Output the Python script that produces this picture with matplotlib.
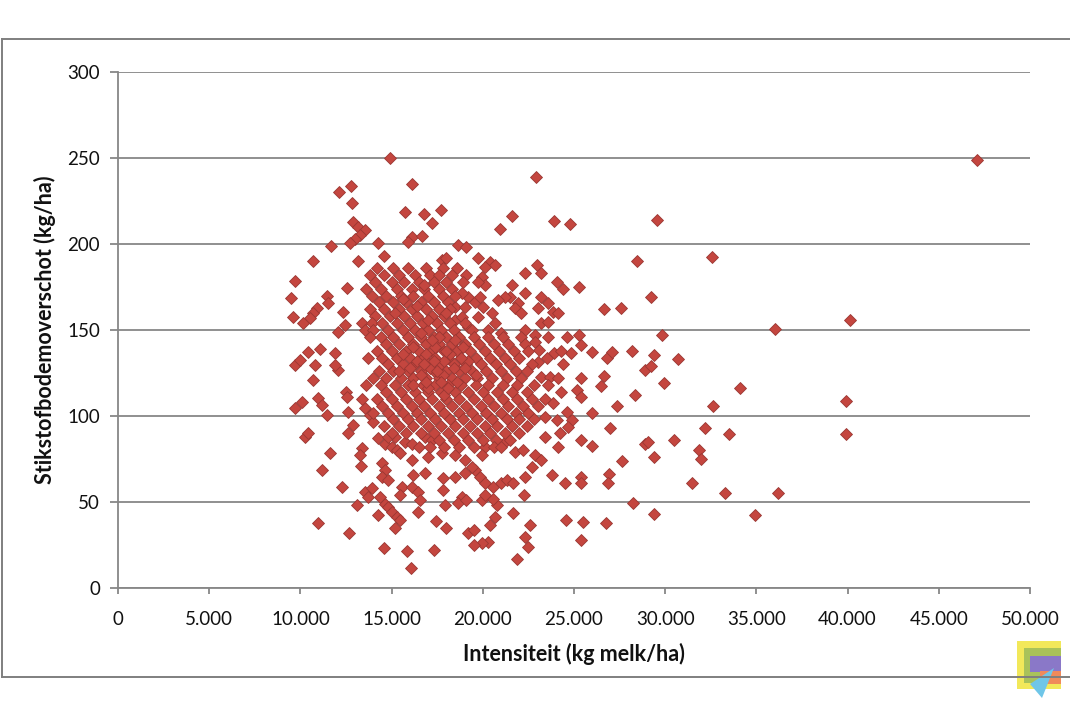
import matplotlib
matplotlib.use("Agg")
import matplotlib.pyplot as plt
from matplotlib.patches import Rectangle, Polygon
from matplotlib.lines import Line2D
from matplotlib.ticker import FuncFormatter

# ---- data: (intensity in 1000 kg milk/ha, N surplus kg/ha) ----
upper_left = [(14.91,249.8),(12.13,230),(12.76,234),(12.81,223.6),(16.1,235),(15.73,218.4),(16.8,217.4),(17.2,212),
    (12.9,213),(13.17,210),(13.54,208),(13.27,205),(13.0,203),(12.72,200.4),(11.66,198.8),(14.24,200.8),(16.1,204),
    (15.9,201),(16.65,204.6),(10.7,190),(13.14,190),(14.58,193),(9.7,178.5),(9.48,168.4),(12.54,174.6),(11.44,170),
    (11.53,165.5),(10.9,162.6),(10.7,159.7),(10.5,156.8),(9.6,157.7),(10.16,153.9),(12.35,160.6),(12.44,153),
    (12.08,149),(13.36,153.9),(13.54,150)]

lower_left = [(9.7,129.7),(9.98,132.6),(10.43,137.4),(10.8,129.7),(10.7,121),(11.07,139),(11.9,136.5),(12.08,126.7),
    (11.9,129.7),(9.7,104.5),(10.07,108.3),(10.25,88),(10.43,90),(10.98,110.3),(11.16,106.4),(11.44,100.6),(11.62,78.7),
    (11.16,68.6),(12.26,58.9),(10.98,38),(12.68,32.2),(12.5,114),(12.54,111),(12.63,102.5),(12.9,94.8),(12.63,90),
    (13.36,81.2),(13.27,77.3),(13.32,71),(13.08,48.3),(13.54,56),(13.9,58),(13.72,53),(14.27,42.4),(14.36,53),
    (14.64,49),(14.82,47),(15.0,44.4),(15.27,41.5),(15.46,39.5),(15.19,34.7),(14.58,23),(15.83,21.7),(16.04,11.4),
    (17.35,22),(17.45,39),(14.45,72.5),(14.64,68.6),(14.45,64.7),(14.82,62.8),(15.55,58.9),(15.46,54),(16.19,65.7),
    (16.1,58.9),(16.46,56),(16.56,51.2),(16.46,44.4),(16.1,74.4),(16.83,66.7),(17.0,76.3),(14.27,87),(14.64,84),
    (15.0,82),(15.27,80.2),(15.46,78.3),(15.73,85),(16.1,84),(15.19,88),(14.82,88),(16.83,88),(17.2,86),
    (13.54,104.5),(13.8,100.6),(14.0,96.7)]

upper_mid = [(22.9,239),(17.7,220),(21.58,216),(20.94,209),(23.9,213.4),(24.78,211.6),(18.66,199.4),(19.1,198.4),
    (22.3,183.3),(22.95,187.8),(23.2,183),(24.05,178),(24.4,174),(25.3,175),(19.75,191.7),(20.4,189.7),(20.67,187.8),
    (20.1,186.8),(17.75,190.7),(18.0,191.7),(19.94,181),(20.1,176),(19.75,178),(21.58,176),(21.95,165.5),(21.77,162.6),
    (22.3,171.3),(21.5,169.4),(23.2,169.4),(23.05,162.6),(23.6,165.5),(23.86,160.6),(24.1,159.7),(23.2,153.9),
    (23.6,154.8),(22.86,147),(22.3,150),(25.3,147),(20.67,153.9),(21.0,148),(20.3,150),(19.2,169.4),(18.84,171.3),
    (18.48,163.5),(19.02,163.5),(19.57,166.5),(19.85,169.4),(18.5,155.8),(18.84,157.7),(19.2,152),(19.75,157.7),
    (20.5,159.7),(20.0,163.5),(21.2,169.4),(20.85,167.4),(22.1,159.7)]

lower_mid = [(22.86,143),(23.1,138.4),(23.05,131.6),(23.9,136.8),(24.84,136.8),(25.4,141),(23.2,122.8),(23.7,122.8),
    (25.15,115),(25.4,122),(23.86,107.4),(23.4,99.6),(24.05,97.7),(24.6,102.5),(24.87,97.7),(24.69,93.8),(23.4,88),
    (24.23,90),(24.14,82.2),(25.4,86),(25.4,111.2),(22.86,77.3),(23.2,74.4),(22.67,70.5),(23.8,65.7),(24.5,61.2),
    (25.4,64.7),(25.4,60.9),(22.3,64.7),(22.27,54),(21.64,43.4),(22.6,36.6),(22.3,29.8),(22.5,24),(21.9,16.7),
    (24.54,39.5),(25.5,38.5),(25.4,28),(20.3,27),(19.94,26),(19.5,25),(19.2,31.8),(19.5,33.7),(18.0,34.7),
    (20.4,36.6),(20.67,41.5),(20.76,48.3),(20.57,52),(17.84,57),(17.93,48.3),(18.84,53),(18.66,49.2),(19.1,51.2),
    (19.94,51.2),(20.1,54),(17.84,63.8),(18.5,64.7),(19.0,66.7),(19.57,68.6),(19.85,64.7),(20.1,60.9),(20.57,58.9),
    (21.0,60.9),(21.3,62.8),(21.67,60.9),(21.2,85),(21.77,79.2),(22.2,80.2),(17.75,78.3),(18.5,77.3),(19.0,74.4),
    (19.4,70.5),(20.1,82.2),(19.94,77.3)]

right_side = [(47.1,249),(29.57,214),(28.47,190),(32.55,192.6),(26.63,162),(27.6,163),(29.2,169),(40.15,156),
    (36.0,150.6),(29.8,147),(25.97,137),(26.8,134),(27.1,137),(28.2,138),(29.4,135.5),(28.9,127),(29.2,129),
    (30.7,133),(26.66,123),(26.46,117.6),(29.95,119),(34.1,116),(28.34,112),(27.34,105.6),(32.6,105.6),(39.9,109),
    (26.0,101.6),(27.0,93),(32.2,93),(33.5,89.7),(39.9,89.7),(26.0,82.7),(28.9,84),(29.07,84.7),(30.5,86),
    (27.65,74),(29.37,76),(31.87,80),(31.95,75),(26.9,66),(26.85,61),(31.45,61),(33.3,55),(36.2,55),(28.25,49.6),
    (29.37,42.8),(34.9,42.3),(26.73,37.6)]

core_top = [
    (14.2,186),(15.1,186),(15.9,186),(16.9,186),(17.8,186),(18.6,186),
    (13.8,182),(14.6,182),(15.4,182),(16.3,182),(17.1,182),(17.6,182),(18.3,182),(19.1,182),
    (14.1,178),(15.0,178),(15.7,178),(16.5,178),(17.3,178),(18.0,178),(18.9,178),
    (13.6,174),(14.4,174),(15.3,174),(16.1,174),(16.8,174),(17.6,174),(18.3,174),
    (13.9,170),(14.7,170),(15.5,170),(16.2,170),(17.0,170),(17.8,170),(18.5,170),
    (14.3,166),(15.1,166),(15.8,166),(16.6,166),(17.3,166),(18.1,166),
    (13.8,162),(14.6,162),(15.4,162),(16.1,162),(16.9,162),(17.6,162),(18.2,162),
    (14.1,158),(14.9,158),(15.7,158),(16.4,158),(17.2,158),(17.9,158),
    (13.9,154),(14.5,154),(15.3,154),(16.0,154),(16.7,154),(17.5,154),(18.2,154),(19.0,154),
    (14.0,150),(14.8,150),(15.6,150),(16.3,150),(17.0,150),(17.7,150),(18.4,150),(19.4,150)]

core_mid = [
    (13.8,146),(14.4,146),(15.1,146),(15.9,146),(16.6,146),(17.3,146),(18.0,146),(18.7,146),(19.5,146),(20.3,146),(21.1,146),(22.1,146),(23.6,146),(24.6,146),
    (14.7,142),(15.4,142),(16.2,142),(16.9,142),(17.6,142),(18.3,142),(19.0,142),(19.8,142),(20.6,142),(21.4,142),(22.3,142),
    (14.2,138),(15.0,138),(15.8,138),(16.5,138),(17.2,138),(17.9,138),(18.6,138),(19.3,138),(20.1,138),(20.9,138),(21.7,138),(22.5,138),(24.3,138),
    (13.7,134),(14.5,134),(15.3,134),(16.0,134),(16.7,134),(17.4,134),(18.1,134),(18.8,134),(19.6,134),(20.4,134),(21.2,134),(22.0,134),(23.5,134),
    (14.8,130),(15.6,130),(16.3,130),(17.0,130),(17.7,130),(18.4,130),(19.1,130),(19.9,130),(20.7,130),(21.5,130),(22.7,130),(24.4,130),
    (14.3,126),(15.1,126),(15.9,126),(16.6,126),(17.3,126),(18.0,126),(18.7,126),(19.4,126),(20.2,126),(21.0,126),(21.8,126),(22.4,126),
    (14.0,122),(14.7,122),(15.5,122),(16.2,122),(16.9,122),(17.6,122),(18.3,122),(19.0,122),(19.7,122),(20.5,122),(21.3,122),(22.1,122),(24.1,122),
    (13.6,118),(14.4,118),(15.2,118),(15.9,118),(16.7,118),(17.4,118),(18.1,118),(18.8,118),(19.6,118),(20.3,118),(21.1,118),(21.9,118),(22.8,118),(23.6,118)]

core_low = [
    (14.7,114),(15.5,114),(16.3,114),(17.0,114),(17.7,114),(18.5,114),(19.2,114),(20.0,114),(20.8,114),(21.6,114),(22.4,114),(24.3,114),
    (13.4,110),(14.2,110),(15.0,110),(15.8,110),(16.5,110),(17.2,110),(18.0,110),(18.7,110),(19.5,110),(20.3,110),(21.1,110),(21.9,110),(22.7,110),(23.4,110),
    (14.5,106),(15.3,106),(16.1,106),(16.8,106),(17.6,106),(18.3,106),(19.1,106),(19.9,106),(20.6,106),(21.4,106),(22.2,106),(23.0,106),
    (14.0,102),(14.8,102),(15.6,102),(16.4,102),(17.1,102),(17.9,102),(18.7,102),(19.4,102),(20.2,102),(21.0,102),(21.8,102),(22.5,102),
    (15.1,98),(15.9,98),(16.6,98),(17.4,98),(18.2,98),(18.9,98),(19.7,98),(20.5,98),(21.3,98),(22.0,98),(22.8,98),
    (14.6,94),(15.4,94),(16.2,94),(17.0,94),(17.7,94),(18.5,94),(19.3,94),(20.1,94),(20.8,94),(21.6,94),(22.4,94),
    (15.0,90),(15.8,90),(16.6,90),(17.3,90),(18.1,90),(18.9,90),(19.7,90),(20.4,90),(21.2,90),(22.0,90),
    (17.6,86),(18.4,86),(19.2,86),(20.0,86),(20.7,86),(21.5,86),
    (16.5,82),(17.1,82),(17.9,82),(18.7,82),(19.5,82),(20.6,82),(21.0,82)]

core_blob = [(16.2,140),(16.9,136),(17.4,140),(17.9,132),(18.4,128),(17.1,128),(16.6,124),(17.8,124),(18.2,136),
    (16.4,132),(17.6,146),(18.9,140),(19.2,132),(18.6,120),(17.0,116),(17.9,112),(16.2,118),(15.6,136),(15.4,126),
    (19.6,124),(17.3,132),(16.8,130),(18.0,138),(17.5,126),(18.8,134),(16.0,128),(17.2,144),(18.5,144),(16.6,148),
    (17.7,120),(16.9,120),(18.1,116),(19.0,128),(17.0,156),(16.4,164),(15.6,168),(18.0,160),(15.2,160),(16.8,176)]

x_ticks = [0, 5000, 10000, 15000, 20000, 25000, 30000, 35000, 40000, 45000, 50000]
y_ticks = [0, 50, 100, 150, 200, 250, 300]
x_label = "Intensiteit (kg melk/ha)"
y_label = "Stikstofbodemoverschot (kg/ha)"

groups = [upper_left, lower_left, upper_mid, lower_mid, right_side, core_top, core_mid, core_low, core_blob]
xs = [p[0] * 1000 for g in groups for p in g]
ys = [p[1] for g in groups for p in g]

plt.rcParams['font.family'] = ['Lato', 'DejaVu Sans']

W, H = 1070, 713
fig = plt.figure(figsize=(W / 100, H / 100), dpi=100)
ax = fig.add_axes([118 / W, 1 - 588 / H, (1030 - 118) / W, (588 - 72) / H])

grid_col = '#878787'
ax.plot(xs, ys, linestyle='none', marker='D', markersize=6.2,
        markerfacecolor='#C4463F', markeredgecolor='#9A3733', markeredgewidth=0.6, zorder=3)

ax.set_xlim(0, 50000)
ax.set_ylim(0, 300)
ax.set_xticks(x_ticks)
ax.set_yticks(y_ticks)
ax.xaxis.set_major_formatter(FuncFormatter(lambda v, p: f"{int(v):,}".replace(",", ".")))
ax.yaxis.grid(True, color=grid_col, linewidth=1.3)
ax.set_axisbelow(True)
for s in ['top', 'right']:
    ax.spines[s].set_visible(False)
for s in ['left', 'bottom']:
    ax.spines[s].set_color(grid_col)
    ax.spines[s].set_linewidth(1.3)
ax.tick_params(axis='y', length=6, width=1.3, color=grid_col, pad=7, labelsize=13.5, labelcolor='#111111')
ax.tick_params(axis='x', length=4.5, width=1.3, color=grid_col, pad=12, labelsize=13.5, labelcolor='#111111')

ax.set_xlabel(x_label, fontsize=15.5, fontweight='bold', color='#111111', labelpad=11)
ax.set_ylabel(y_label, fontsize=15.5, fontweight='bold', color='#111111', labelpad=8)

# outer frame (slide chart border)
fc = '#7f7f7f'
fig.add_artist(Line2D([2 / W, 1.0], [1 - 39 / H, 1 - 39 / H], color=fc, lw=1.4))
fig.add_artist(Line2D([2 / W, 2 / W], [1 - 39 / H, 1 - 677 / H], color=fc, lw=1.4))
fig.add_artist(Line2D([2 / W, 1.0], [1 - 677 / H, 1 - 677 / H], color=fc, lw=1.4))

# small logo bottom right
def rect(x0, y0, x1, y1, col):
    fig.add_artist(Rectangle((x0 / W, 1 - y1 / H), (x1 - x0) / W, (y1 - y0) / H,
                             facecolor=col, edgecolor='none', transform=fig.transFigure))
rect(1017, 641, 1061, 689, '#F2E85A')
rect(1024, 648, 1061, 683, '#A9C25A')
rect(1030, 656, 1061, 672, '#8A78C8')
rect(1040, 671, 1061, 684, '#F08A5A')
fig.add_artist(Polygon([(1030 / W, 1 - 684 / H), (1054 / W, 1 - 668 / H), (1042 / W, 1 - 698 / H)],
                       closed=True, facecolor='#6FC6E8', edgecolor='none', transform=fig.transFigure))

fig.savefig('out.png', dpi=100)
